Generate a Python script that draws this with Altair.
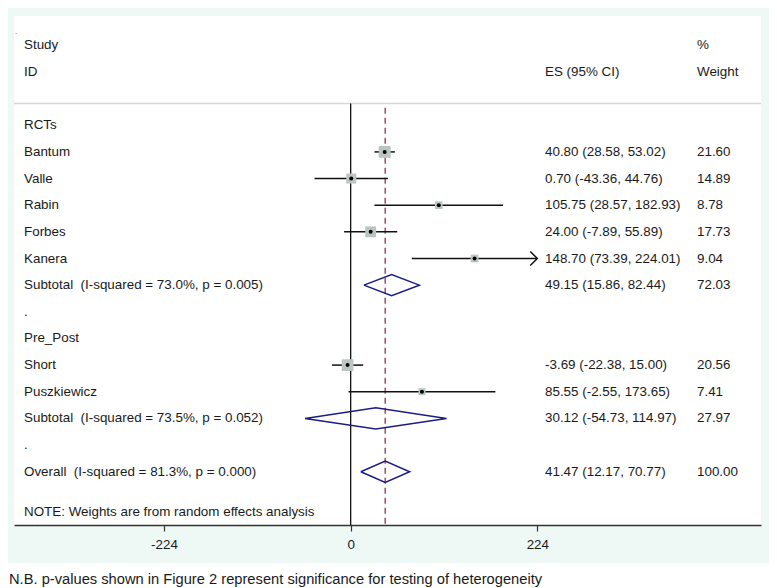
import altair as alt
import pandas as pd

# ---------------- data ----------------
studies = ["Bantum", "Valle", "Rabin", "Forbes", "Kanera", "Short", "Puszkiewicz"]
study_rows = [1, 2, 3, 4, 5, 9, 10]
es = [40.80, 0.70, 105.75, 24.00, 148.70, -3.69, 85.55]
lo = [28.58, -43.36, 28.57, -7.89, 73.39, -22.38, -2.55]
hi = [53.02, 44.76, 182.93, 55.89, 224.01, 15.00, 173.65]
weights = [21.60, 14.89, 8.78, 17.73, 9.04, 20.56, 7.41]

pooled_labels = [
    "Subtotal\u00a0\u00a0(I-squared = 73.0%, p = 0.005)",
    "Subtotal\u00a0\u00a0(I-squared = 73.5%, p = 0.052)",
    "Overall\u00a0\u00a0(I-squared = 81.3%, p = 0.000)",
]
pooled_rows = [6, 11, 13]
pooled_es = [49.15, 30.12, 41.47]
pooled_lo = [15.86, -54.73, 12.17]
pooled_hi = [82.44, 114.97, 70.77]
pooled_w = [72.03, 27.97, 100.00]

group_labels = ["RCTs", ".", "Pre_Post", "."]
group_rows = [0, 7, 8, 12]

header_left = ["Study", "ID"]
header_rows = [-3, -2]
note_text = "NOTE: Weights are from random effects analysis"
note_row = 14.5
footnote = "N.B. p-values shown in Figure 2 represent significance for testing of heterogeneity"

x_ticks = [-224, 0, 224]
x_clip = 224

# ---------------- layout ----------------
W, H = 747, 509
FONT = "Liberation Sans"
FS = 13.4
TXT = "#1a1a1a"
COL_LABEL, COL_ES, COL_W = 10, 531, 683

xscale = alt.Scale(domain=[-404.0, 492.4], nice=False, zero=False)
yscale = alt.Scale(domain=[-4.1, 15], reverse=True, nice=False, zero=False)
xaxis = alt.Axis(values=x_ticks, grid=False, title=None, domainColor="#333333",
                 domainWidth=1.5, tickColor="#333333", tickWidth=1.2, tickSize=6,
                 labelPadding=6, labelFont=FONT, labelFontSize=13.4, labelColor="#1a1a1a",
                 labelFlush=False, labelExpr="toString(datum.value)")


def X(field):
    return alt.X(f"{field}:Q", scale=xscale, axis=xaxis)


def Y(field):
    return alt.Y(f"{field}:Q", scale=yscale, axis=None)


study_df = pd.DataFrame({
    "study": studies, "row": study_rows, "es": es, "lo": lo, "hi": hi, "w": weights,
})
study_df["hi_draw"] = study_df["hi"].clip(upper=x_clip)
study_df["es_txt"] = [f"{e:.2f} ({l:.2f}, {h:.2f})" for e, l, h in zip(es, lo, hi)]
study_df["w_txt"] = [f"{w:.2f}" for w in weights]
arrow_df = study_df[study_df["hi"] > x_clip]

pooled_df = pd.DataFrame({
    "label": pooled_labels, "row": pooled_rows, "es": pooled_es,
    "lo": pooled_lo, "hi": pooled_hi, "w": pooled_w,
})
pooled_df["es_txt"] = [f"{e:.2f} ({l:.2f}, {h:.2f})" for e, l, h in zip(pooled_es, pooled_lo, pooled_hi)]
pooled_df["w_txt"] = [f"{w:.2f}" for w in pooled_w]

# diamond outlines
dh = 0.4
drows = []
for i, (r, e, l, h) in enumerate(zip(pooled_rows, pooled_es, pooled_lo, pooled_hi)):
    pts = [(l, r), (e, r - dh), (h, r), (e, r + dh), (l, r)]
    for k, (px, py) in enumerate(pts):
        drows.append({"g": i, "k": k, "x": px, "y": py})
diamond_df = pd.DataFrame(drows)

labels_df = pd.DataFrame({
    "label": header_left + group_labels + studies + pooled_labels + [note_text],
    "row": header_rows + group_rows + study_rows + pooled_rows + [note_row],
})
header_right = pd.DataFrame({
    "label": ["%", "Weight", "ES (95% CI)"],
    "row": [-3, -2, -2],
    "col": ["w", "w", "es"],
})
right_df = pd.concat([study_df[["row", "es_txt", "w_txt"]],
                      pooled_df[["row", "es_txt", "w_txt"]]])

sep_df = pd.DataFrame({"row": [-0.82]})
zero_df = pd.DataFrame({"x": [0], "y1": [-0.82], "y2": [15]})
overall_df = pd.DataFrame({"x": [pooled_es[-1]], "y1": [-0.66], "y2": [15]})
one = pd.DataFrame({"a": [0]})

# ---------------- layers ----------------
base_text = dict(font=FONT, fontSize=FS, color=TXT, align="left", baseline="middle")

sep = alt.Chart(sep_df).mark_rule(color="#d3d7d5", strokeWidth=1.5).encode(
    x=alt.value(0), x2=alt.value(W), y=Y("row"))

zero = alt.Chart(zero_df).mark_rule(color="#111111", strokeWidth=1.3).encode(
    x=X("x"), y=Y("y1"), y2="y2:Q")

overall = alt.Chart(overall_df).mark_rule(color="#a24a68", strokeWidth=1.5,
                                           strokeDash=[6, 4]).encode(
    x=X("x"), y=Y("y1"), y2="y2:Q")

ci = alt.Chart(study_df).mark_rule(color="#111111", strokeWidth=1.5).encode(
    x=X("lo"), x2="hi_draw:Q", y=Y("row"))

boxes = alt.Chart(study_df).mark_point(shape="square", filled=True, color="#bcc6c1",
                                       opacity=1).encode(
    x=X("es"), y=Y("row"),
    size=alt.Size("w:Q", scale=alt.Scale(type="linear", domain=[0, 21.6], range=[0, 144]),
                  legend=None))

dots = alt.Chart(study_df).mark_circle(color="#000000", size=16, opacity=1).encode(
    x=X("es"), y=Y("row"))

arrows = alt.Chart(arrow_df).mark_point(shape="M-1,-1L0,0L-1,1", filled=False,
                                        color="#111111", strokeWidth=1.5, size=200,
                                        opacity=1).encode(
    x=X("hi_draw"), y=Y("row"))

diamonds = alt.Chart(diamond_df).mark_line(color="#1c1c86", strokeWidth=1.5).encode(
    x=X("x"), y=Y("y"), detail="g:N", order="k:Q")

left_txt = alt.Chart(labels_df).mark_text(**base_text).encode(
    x=alt.value(COL_LABEL), y=Y("row"), text="label:N")

es_txt = alt.Chart(right_df).mark_text(**base_text).encode(
    x=alt.value(COL_ES), y=Y("row"), text="es_txt:N")

w_txt = alt.Chart(right_df).mark_text(**base_text).encode(
    x=alt.value(COL_W), y=Y("row"), text="w_txt:N")

hdr_w = alt.Chart(header_right[header_right["col"] == "w"]).mark_text(**base_text).encode(
    x=alt.value(COL_W), y=Y("row"), text="label:N")
hdr_es = alt.Chart(header_right[header_right["col"] == "es"]).mark_text(**base_text).encode(
    x=alt.value(COL_ES), y=Y("row"), text="label:N")

tiny_dot = alt.Chart(one).mark_text(font=FONT, fontSize=8, color="#555555", align="left",
                                    baseline="alphabetic", text=".").encode(
    x=alt.value(1), y=alt.value(18))

bottom_white = alt.Chart(one).mark_rect(color="white").encode(
    x=alt.value(-6), x2=alt.value(W + 8), y=alt.value(547), y2=alt.value(H + 63))

foot = alt.Chart(one).mark_text(font=FONT, fontSize=14.7, color="#1a1a1a", align="left",
                                baseline="middle", text=footnote).encode(
    x=alt.value(-5), y=alt.value(564))

chart = alt.layer(
    sep, zero, overall, ci, boxes, dots, arrows, diamonds,
    left_txt, es_txt, w_txt, hdr_w, hdr_es, tiny_dot, bottom_white, foot,
).properties(
    width=W, height=H,
    autosize=alt.AutoSizeParams(type="none"),
    padding={"left": 6, "top": 8, "right": 8, "bottom": 63},
    background="#eef8f5",
).configure_view(fill="white", stroke=None)

chart.save("out.html", embed_options={"renderer": "svg", "actions": False})
